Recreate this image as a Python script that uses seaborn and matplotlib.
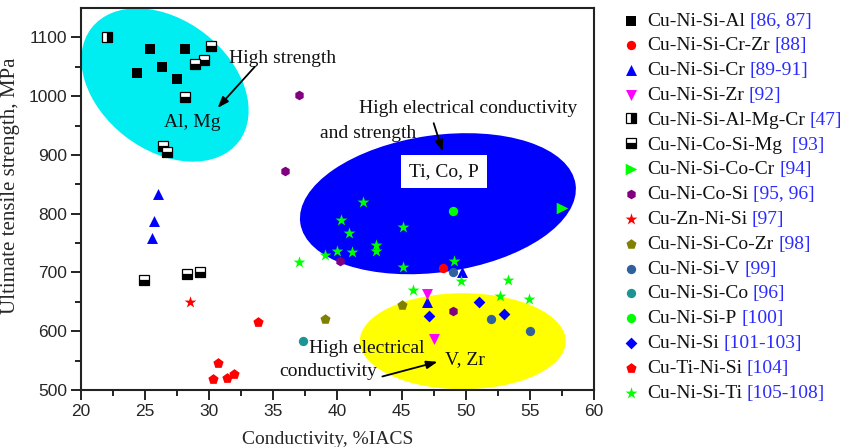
import matplotlib
matplotlib.use("Agg")
import matplotlib.pyplot as plt
import matplotlib.transforms as mtransforms
from matplotlib.patches import Ellipse
import seaborn as sns

# ---- data: conductivity (%IACS) and ultimate tensile strength (MPa) ----
al_x = [25.4, 28.1, 24.4, 26.3, 27.5]
al_y = [1080, 1080, 1040, 1050, 1030]
crzr_x = [48.2]
crzr_y = [707]
cr_x = [26.0, 25.7, 25.5, 49.7, 47.0]
cr_y = [834, 788, 758, 701, 650]
zr_x = [47.0, 47.5]
zr_y = [664, 586]
almgcr_x = [22.0]
almgcr_y = [1100]
cosimg_x = [30.1, 29.6, 28.9, 28.1, 26.4, 26.7, 24.9, 28.3, 29.3]
cosimg_y = [1085, 1062, 1055, 998, 916, 905, 688, 698, 700]
cocr_x = [57.5]
cocr_y = [809]
cosi_x = [37.0, 35.9, 40.2, 49.0]
cosi_y = [1002, 873, 719, 635]
zn_x = [28.5]
zn_y = [650]
cozr_x = [39.0, 45.0]
cozr_y = [620, 645]
v_x = [49.0, 52.0, 55.0]
v_y = [700, 620, 600]
co_x = [37.3]
co_y = [583]
p_x = [49.0]
p_y = [804]
nisi_x = [51.0, 53.0, 47.1]
nisi_y = [650, 630, 626]
tinisi_x = [33.8, 30.7, 30.3, 31.4, 31.9]
tinisi_y = [615, 546, 518, 520, 528]
ti_x = [42.0, 40.3, 40.9, 45.1, 43.0, 43.0, 40.0, 41.1, 39.0, 37.0,
        45.1, 49.1, 49.6, 53.3, 45.9, 52.7, 54.9]
ti_y = [820, 790, 767, 778, 746, 737, 737, 735, 730, 718,
        710, 719, 686, 687, 670, 660, 655]

names = ["Cu-Ni-Si-Al", "Cu-Ni-Si-Cr-Zr", "Cu-Ni-Si-Cr", "Cu-Ni-Si-Zr",
         "Cu-Ni-Si-Al-Mg-Cr", "Cu-Ni-Co-Si-Mg", "Cu-Ni-Si-Co-Cr",
         "Cu-Ni-Co-Si", "Cu-Zn-Ni-Si", "Cu-Ni-Si-Co-Zr", "Cu-Ni-Si-V",
         "Cu-Ni-Si-Co", "Cu-Ni-Si-P", "Cu-Ni-Si", "Cu-Ti-Ni-Si", "Cu-Ni-Si-Ti"]
refs = ["[86, 87]", "[88]", "[89-91]", "[92]", "[47]", " [93]", "[94]",
        "[95, 96]", "[97]", "[98]", "[99]", "[96]", "[100]", "[101-103]",
        "[104]", "[105-108]"]

# solid-marker series: name -> (x, y, marker, colour, size)
solid = {
    "Cu-Ni-Si-Al": (al_x, al_y, "s", "black", 52),
    "Cu-Ni-Si-Cr-Zr": (crzr_x, crzr_y, "o", "#ff0000", 45),
    "Cu-Ni-Si-Cr": (cr_x, cr_y, "^", "#0000ff", 62),
    "Cu-Ni-Si-Zr": (zr_x, zr_y, "v", "#ff00ff", 62),
    "Cu-Ni-Si-Co-Cr": (cocr_x, cocr_y, ">", "#00ff00", 70),
    "Cu-Ni-Co-Si": (cosi_x, cosi_y, "h", "#800080", 48),
    "Cu-Zn-Ni-Si": (zn_x, zn_y, "*", "#ff0000", 80),
    "Cu-Ni-Si-Co-Zr": (cozr_x, cozr_y, "p", "#808000", 58),
    "Cu-Ni-Si-V": (v_x, v_y, "o", "#30619c", 45),
    "Cu-Ni-Si-Co": (co_x, co_y, "o", "#1e9393", 45),
    "Cu-Ni-Si-P": (p_x, p_y, "o", "#00ff00", 45),
    "Cu-Ni-Si": (nisi_x, nisi_y, "D", "#0000ff", 36),
    "Cu-Ti-Ni-Si": (tinisi_x, tinisi_y, "p", "#ff0000", 60),
    "Cu-Ni-Si-Ti": (ti_x, ti_y, "*", "#00ff00", 80),
}
# half-filled square series: name -> (x, y, fillstyle)
halves = {
    "Cu-Ni-Si-Al-Mg-Cr": (almgcr_x, almgcr_y, "right"),
    "Cu-Ni-Co-Si-Mg": (cosimg_x, cosimg_y, "bottom"),
}

sns.set_theme(style="ticks")
plt.rcParams["font.family"] = ["Liberation Serif", "DejaVu Serif"]

W, H, DPI = 845, 447, 100
fig = plt.figure(figsize=(W / DPI, H / DPI), dpi=DPI)
L, R, T, B = 81, 594, 8, 390
ax = fig.add_axes([L / W, 1 - B / H, (R - L) / W, (B - T) / H])


def shaded_region(cx, cy, w_px, h_px, angle, color):
    """Ellipse sized in screen pixels, centred on a data point."""
    trans = fig.dpi_scale_trans + mtransforms.ScaledTranslation(cx, cy, ax.transData)
    ax.add_patch(Ellipse((0, 0), w_px / DPI, h_px / DPI, angle=angle,
                         transform=trans, facecolor=color, edgecolor="none",
                         zorder=0))


shaded_region(26.55, 1019, 186, 130, -37.7, "#00eef2")
shaded_region(47.83, 817, 278, 137, 8, "#0000ff")
shaded_region(49.77, 583, 206, 96, 0, "#ffff00")

for name, (xs, ys, mk, col, s) in solid.items():
    sns.scatterplot(x=xs, y=ys, marker=mk, color=col, s=s, linewidth=0,
                    label=name, legend=False, ax=ax, zorder=3)

for name, (xs, ys, fs) in halves.items():
    sns.lineplot(x=xs, y=ys, estimator=None, sort=False, marker="s",
                 linestyle="", markersize=7.3, fillstyle=fs, color="black",
                 markerfacecolor="black", markerfacecoloralt="white",
                 markeredgecolor="black", markeredgewidth=0.9,
                 label=name, legend=False, ax=ax, zorder=3)

ax.set_xlim(20, 60)
ax.set_ylim(500, 1150)
ax.set_xticks(range(20, 61, 5))
ax.set_xticks([x + 2.5 for x in range(20, 60, 5)], minor=True)
ax.set_yticks(range(500, 1101, 100))
ax.set_yticks(range(550, 1150, 100), minor=True)
ax.tick_params(which="both", direction="out", width=1.4, color="#222222",
               labelsize=12.5, pad=3)
ax.tick_params(which="major", length=7)
ax.tick_params(which="minor", length=4)
for lab in ax.get_xticklabels() + ax.get_yticklabels():
    lab.set_fontfamily("Liberation Sans")
for sp in ax.spines.values():
    sp.set_visible(True)
    sp.set_linewidth(1.5)
    sp.set_color("#222222")

ax.set_xlabel("Conductivity, %IACS", fontsize=14)
ax.set_ylabel("Ultimate tensile strength, MPa", fontsize=15)
ax.xaxis.set_label_coords(0.481, -0.108)
ax.yaxis.set_label_coords(-0.118, 0.535)

txt = dict(fontsize=14, ha="center", va="center", color="#111111", zorder=5)
arrow = dict(arrowstyle="-|>,head_length=0.55,head_width=0.2", color="black",
             lw=1.3, shrinkA=0, shrinkB=0)
ax.text(35.7, 1064, "High strength", **txt)
ax.text(28.7, 956, "Al, Mg", **txt)
ax.annotate("", xy=(30.65, 980), xytext=(33.55, 1050), arrowprops=arrow, zorder=5)

ax.text(50.2, 979, "High electrical conductivity", **txt)
ax.text(42.4, 937, "and strength", **txt)
ax.annotate("", xy=(48.2, 906), xytext=(47.5, 954), arrowprops=arrow, zorder=5)
ax.text(48.3, 872, "Ti, Co, P",
        bbox=dict(boxstyle="square,pad=0.4", facecolor="white", edgecolor="none"),
        **txt)

ax.text(42.3, 570, "High electrical", **txt)
ax.text(39.3, 531, "conductivity", **txt)
ax.annotate("", xy=(47.8, 548), xytext=(43.5, 523), arrowprops=arrow, zorder=5)
ax.text(49.9, 551, "V, Zr", **txt)

handles, labels = ax.get_legend_handles_labels()
lookup = dict(zip(labels, handles))
leg = fig.legend([lookup[n] for n in names], names, loc="upper left",
                 bbox_to_anchor=(621 / W, 1 - 12 / H), frameon=False,
                 fontsize=14, borderpad=0, borderaxespad=0, handlelength=1.0,
                 handletextpad=0.33, labelspacing=0.37, scatterpoints=1,
                 numpoints=1)
for t in leg.get_texts():
    t.set_color("#111111")

# citation numbers in blue after each legend entry
fig.canvas.draw()
renderer = fig.canvas.get_renderer()
for t, ref in zip(leg.get_texts(), refs):
    bb = t.get_window_extent(renderer)
    fig.text((bb.x1 + 5) / W, bb.y0 / H, ref, fontsize=14, color="#2b2bff",
             va="bottom", ha="left")

fig.savefig("out.png", dpi=DPI, facecolor="white")
